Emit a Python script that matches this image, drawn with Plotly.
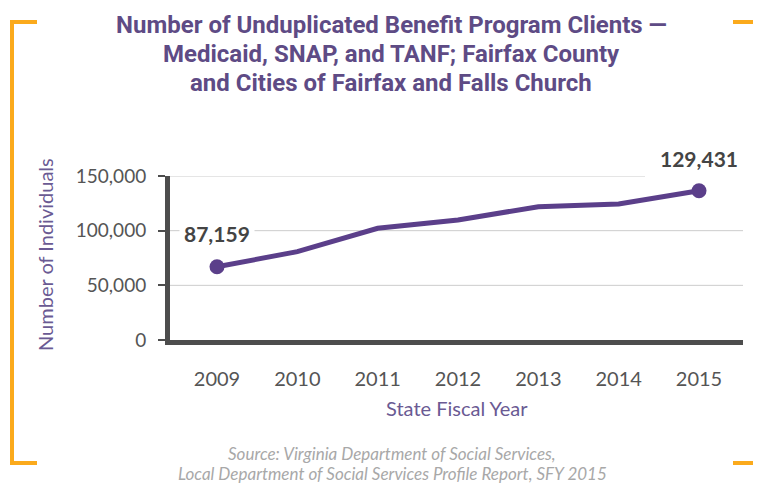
import plotly.graph_objects as go

years = [2009, 2010, 2011, 2012, 2013, 2014, 2015]
clients = [67000, 80800, 102200, 109800, 121900, 124400, 136500]
end_labels = ["87,159", "129,431"]
y_ticks = [0, 50000, 100000, 150000]
y_ticktext = ["0", "50,000", "100,000", "150,000"]

title_lines = ["Number of Unduplicated Benefit Program Clients —",
               "Medicaid, SNAP, and TANF; Fairfax County",
               "and Cities of Fairfax and Falls Church"]
source_lines = ["Source: Virginia Department of Social Services,",
                "Local Department of Social Services Profile Report, SFY 2015"]

OFF = 8  # page body margin
W, H = 761 - OFF, 485 - OFF
# plot area in window pixels
L, R, T, B = 170, 743, 176, 340
PURPLE = "#5B3F8A"
TITLE_PURPLE = "#5E4B85"
ORANGE = "#FBAA1C"
AX = "#4D4D4D"

def px(x):
    return (x - L) / (R - L)

def py(y):
    return (B - y) / (B - T)

# x range from tick pixel positions (2009 at 217, 2015 at 699)
per = (699 - 217) / 6
xr = [2009 - (217 - L) / per, 2015 + (R - 699) / per]

fig = go.Figure()
fig.add_trace(go.Scatter(
    x=years, y=clients, mode="lines",
    line=dict(color=PURPLE, width=5), hoverinfo="skip", showlegend=False))
fig.add_trace(go.Scatter(
    x=[years[0], years[-1]], y=[clients[0], clients[-1]], mode="markers",
    marker=dict(color=PURPLE, size=15), hoverinfo="skip", showlegend=False))

shapes = []
for v in y_ticks[1:]:
    x1 = 1 if v != y_ticks[-1] else px(645)
    shapes.append(dict(type="line", xref="paper", yref="y", x0=0, x1=x1, y0=v, y1=v,
                       line=dict(color="#CCCCCC", width=1), layer="below"))
ow = 4
def seg(x0, y0, x1, y1):
    return dict(type="line", xref="paper", yref="paper", x0=px(x0), x1=px(x1),
                y0=py(y0), y1=py(y1), line=dict(color=ORANGE, width=ow))
shapes += [seg(12, 21, 12, 464), seg(10, 22, 37, 22), seg(10, 463, 37, 463),
           seg(733, 22, 761, 22), seg(733, 463, 761, 463)]

ann = []
title_font = dict(family="Roboto, sans-serif", size=24, color=TITLE_PURPLE)
for i, t in enumerate(title_lines):
    ann.append(dict(text="<b>%s</b>" % t, x=px(391), y=py(25 + 29 * i), xref="paper", yref="paper",
                    showarrow=False, font=title_font, xanchor="center", yanchor="middle"))
src_font = dict(family="Lato, sans-serif", size=17, color="#A8A8A8")
for i, t in enumerate(source_lines):
    ann.append(dict(text="<i>%s</i>" % t, x=px(392), y=py(453 + 20 * i), xref="paper", yref="paper",
                    showarrow=False, font=src_font, xanchor="center", yanchor="middle"))
ann.append(dict(text="Number of Individuals", x=px(45), y=py(255), xref="paper", yref="paper",
                textangle=-90, showarrow=False, xanchor="center", yanchor="middle",
                font=dict(family="Lato, sans-serif", size=20, color="#6A5A93")))
ann.append(dict(text="State Fiscal Year", x=px(457), y=py(408), xref="paper", yref="paper",
                showarrow=False, xanchor="center", yanchor="middle",
                font=dict(family="Lato, sans-serif", size=20, color="#6A5A93")))
lab_font = dict(family="Lato, sans-serif", size=21, color="#444444")
ann.append(dict(text="<b>%s</b>" % end_labels[0], x=years[0], y=clients[0], xref="x", yref="y",
                showarrow=False, yshift=33, font=lab_font, bgcolor="white", borderpad=4))
ann.append(dict(text="<b>%s</b>" % end_labels[1], x=years[-1], y=clients[-1], xref="x", yref="y",
                showarrow=False, yshift=32, font=lab_font, bgcolor="white", borderpad=4))

fig.update_layout(
    width=W, height=H,
    margin=dict(l=L - OFF, r=W - (R - OFF), t=T - OFF, b=H - (B - OFF), pad=0),
    paper_bgcolor="white", plot_bgcolor="white",
    shapes=shapes, annotations=ann, showlegend=False,
    xaxis=dict(range=xr, tickmode="array", tickvals=years,
               ticktext=[str(y) for y in years], showgrid=False, zeroline=False,
               showline=True, linewidth=5, linecolor=AX, ticks="",
               ticklabelstandoff=17,
               tickfont=dict(family="Lato, sans-serif", size=20, color="#555555")),
    yaxis=dict(range=[0, 150000], tickmode="array", tickvals=y_ticks, ticktext=y_ticktext,
               showgrid=False, zeroline=False, showline=True, linewidth=5, linecolor=AX,
               ticks="outside", ticklen=7, tickwidth=1.5, tickcolor=AX,
               ticklabelstandoff=8,
               tickfont=dict(family="Lato, sans-serif", size=19, color="#555555")),
)

fig.write_html("out.html")
